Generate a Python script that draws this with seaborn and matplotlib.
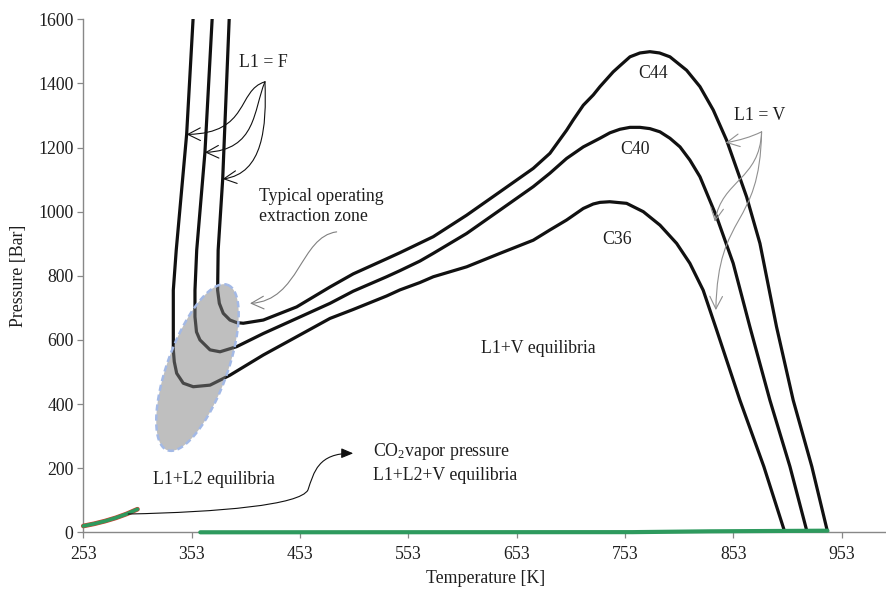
import numpy as np
import pandas as pd
import matplotlib
matplotlib.use("Agg")
import matplotlib.pyplot as plt
from matplotlib.path import Path
from matplotlib.patches import FancyArrowPatch
import seaborn as sns

# ---------------- data ----------------
c36_T = [354.5, 348.4, 338.8, 336.1, 336.1, 337.0, 339.2, 345.3, 354.5, 370.0, 388.4, 419.2, 450.0,
         480.7, 502.2, 533.0, 545.3, 563.8, 576.1, 606.9, 637.7, 668.4, 683.8, 699.2, 714.6, 723.8,
         730.0, 739.0, 754.6, 770.0, 785.4, 800.8, 813.0, 825.3, 837.7, 859.2, 881.3, 900.7]
c36_P = [1610, 1241, 880, 755, 569, 532, 496, 465, 454, 459, 490, 553, 610,
         667, 695, 737, 756, 779, 797, 828, 870, 911, 943, 974, 1010, 1024,
         1029, 1031, 1026, 1000, 958, 901, 839, 755, 631, 412, 205, 0]

c40_T = [372.1, 365.3, 357.7, 356.1, 356.1, 357.5, 360.7, 370.0, 379.2, 394.6, 419.2, 450.0,
         480.7, 502.2, 533.0, 545.3, 563.8, 576.1, 606.9, 637.7, 668.4, 683.8, 699.2, 714.6,
         730.0, 739.2, 748.4, 757.7, 766.9, 776.1, 785.4, 794.6, 803.9, 813.0, 822.3, 837.7,
         853.0, 868.4, 886.9, 905.4, 921.3]
c40_P = [1610, 1185, 880, 755, 672, 625, 600, 569, 563, 579, 620, 667,
         714, 752, 797, 816, 846, 870, 932, 1005, 1078, 1120, 1166, 1202,
         1229, 1246, 1257, 1263, 1263, 1259, 1249, 1229, 1202, 1161, 1109, 984,
         839, 641, 412, 205, 0]

c44_T = [387.8, 381.7, 377.5, 377.0, 378.6, 382.2, 388.4, 394.6, 400.7, 419.2, 450.0, 480.7,
         502.2, 533.0, 545.3, 563.8, 576.1, 606.9, 637.7, 668.4, 683.8, 699.2, 705.3, 714.6,
         723.8, 730.0, 742.2, 748.4, 757.7, 766.9, 776.1, 785.0, 794.6, 810.0, 822.3, 834.6,
         846.9, 865.4, 877.7, 893.0, 908.4, 925.6, 940.2]
c44_P = [1610, 1102, 880, 755, 714, 683, 662, 654, 652, 662, 703, 765,
         806, 853, 872, 902, 922, 989, 1062, 1135, 1182, 1254, 1286, 1332,
         1364, 1390, 1436, 1455, 1483, 1495, 1499, 1495, 1483, 1441, 1390, 1317,
         1223, 1046, 901, 641, 412, 205, 0]

co2_T = [253, 263, 273, 283, 293, 303]
co2_P = [19.7, 26.5, 34.9, 45.0, 57.3, 72.0]

l1l2v_T = [361, 760, 830, 940]
l1l2v_P = [0, 0.5, 3, 5]

# operating zone (ellipse): centre, half-axis vectors in data units
zone_center = (358.4, 513.9)
zone_major = (27.8, 257.9)
zone_minor = (26.0, -32.0)

x_ticks = [253, 353, 453, 553, 653, 753, 853, 953]
y_ticks = [0, 200, 400, 600, 800, 1000, 1200, 1400, 1600]

# ---------------- style ----------------
sns.set_theme(style="white")
plt.rcParams["font.family"] = ["Liberation Serif", "DejaVu Serif"]
plt.rcParams["mathtext.fontset"] = "custom"
plt.rcParams["mathtext.rm"] = "Liberation Serif"
plt.rcParams["mathtext.it"] = "Liberation Serif:italic"

TXT = "#1e1e1e"
FS = 12.8

fig = plt.figure(figsize=(8.87, 5.89), dpi=100)
ax = fig.add_axes([83.3 / 887, 1 - 532.3 / 589, (887 - 83.3) / 887, (532.3 - 19.3) / 589])

curves = pd.concat([
    pd.DataFrame({"T": c36_T, "P": c36_P, "curve": "C36"}),
    pd.DataFrame({"T": c40_T, "P": c40_P, "curve": "C40"}),
    pd.DataFrame({"T": c44_T, "P": c44_P, "curve": "C44"}),
], ignore_index=True)

sns.lineplot(data=curves, x="T", y="P", hue="curve",
             palette={"C36": "#111111", "C40": "#111111", "C44": "#111111"},
             estimator=None, sort=False, legend=False, lw=2.3, ax=ax, zorder=2)
for ln in ax.lines:
    ln.set_solid_joinstyle("round")

# CO2 vapour pressure (red under green)
co2 = pd.DataFrame({"T": co2_T, "P": co2_P})
sns.lineplot(data=co2, x="T", y="P", color="#d04030", lw=3.4, sort=False, ax=ax, zorder=4)
sns.lineplot(data=co2, x="T", y="P", color="#2e9a5e", lw=2.6, sort=False, ax=ax, zorder=5)

base = pd.DataFrame({"T": l1l2v_T, "P": l1l2v_P})
sns.lineplot(data=base, x="T", y="P", color="#2e9a5e", lw=3.0, sort=False, ax=ax, zorder=5)
for ln in ax.lines[-3:]:
    ln.set_clip_on(False)

# operating zone ellipse
t = np.linspace(0, 2 * np.pi, 200)
ex = zone_center[0] + zone_major[0] * np.cos(t) + zone_minor[0] * np.sin(t)
ey = zone_center[1] + zone_major[1] * np.cos(t) + zone_minor[1] * np.sin(t)
ax.fill(ex, ey, color="#808080", alpha=0.5, lw=0, zorder=3)
ax.plot(ex, ey, color="#a3b9e6", lw=1.8, ls=(0, (2.5, 1.5)), zorder=3.5)

ax.set_xlim(253, 995)
ax.set_ylim(0, 1600)
ax.set_xticks(x_ticks)
ax.set_yticks(y_ticks)
ax.tick_params(axis="both", direction="out", length=4, width=0.9, color="#888888",
               labelsize=FS, labelcolor=TXT, pad=3, bottom=True, left=True)
ax.tick_params(axis="x", pad=6.0)
for side in ["top", "right"]:
    ax.spines[side].set_visible(False)
for side in ["left", "bottom"]:
    ax.spines[side].set_color("#888888")
    ax.spines[side].set_linewidth(1.0)
ax.set_xlabel("Temperature [K]", fontsize=FS, color=TXT, labelpad=5)
ax.set_ylabel("Pressure [Bar]", fontsize=FS, color=TXT, labelpad=8)


def bez(segs, color, style, lw=0.8, ms=12):
    verts = [segs[0]]
    codes = [Path.MOVETO]
    for s in segs[1:]:
        verts.append(s)
        codes.append(Path.CURVE4)
    p = Path(verts, codes)
    a = FancyArrowPatch(path=p, arrowstyle=style, color=color, lw=lw,
                        mutation_scale=ms, zorder=6)
    ax.add_patch(a)


open_head = "->,head_length=0.75,head_width=0.38"
# L1 = F arrows
o = (420.7, 1405)
bez([o, (394.6, 1379), (406.9, 1244), (348.4, 1241)], "#111111", open_head)
bez([o, (409.9, 1317), (413.1, 1192), (365.3, 1185)], "#111111", open_head)
bez([o, (422.3, 1265), (419.2, 1119), (381.7, 1102)], "#111111", open_head)
# extraction zone arrow
bez([(486.9, 937), (453, 922), (453, 723), (406.9, 714)], "#808080", open_head)
# L1 = V arrows
o2 = (879.2, 1249)
bez([o2, (868.5, 1232), (859.3, 1223), (846.0, 1215)], "#909090", open_head)
bez([o2, (877.6, 1099), (842.5, 1099), (836.1, 968.5)], "#909090", open_head)
bez([o2, (877.6, 943), (838.8, 1005), (837.0, 693)], "#909090", open_head)
# CO2 arrow
bez([(294.5, 57), (379.2, 63), (453, 85), (460.4, 132), (466, 188), (469.7, 247.4), (502.2, 246.3)],
    "#111111", "-|>,head_length=0.6,head_width=0.25", ms=12)

kw = dict(fontsize=FS, color=TXT, zorder=7)
ax.text(419.4, 1466.5, "L1 = F", ha="center", va="center", **kw)
ax.text(415.5, 1073.6, "Typical operating\nextraction zone", ha="left", va="top", **kw)
ax.text(877.7, 1300, "L1 = V", ha="center", va="center", **kw)
ax.text(778.6, 1431, "C44", ha="center", va="center", **kw)
ax.text(762.3, 1194, "C40", ha="center", va="center", **kw)
ax.text(745.9, 913.6, "C36", ha="center", va="center", **kw)
ax.text(672.7, 574.7, "L1+V equilibria", ha="center", va="center", **kw)
ax.text(373.7, 166, "L1+L2 equilibria", ha="center", va="center", **kw)
ax.text(520.7, 251, "CO$_2$vapor pressure", ha="left", va="center", **kw)
ax.text(520.7, 178, "L1+L2+V equilibria", ha="left", va="center", **kw)

fig.savefig("out.png", dpi=100)
